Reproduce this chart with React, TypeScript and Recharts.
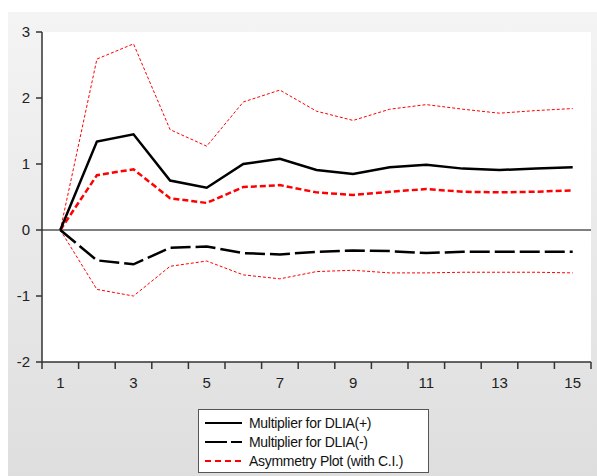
import React from "react";
import { LineChart, Line, XAxis, YAxis, CartesianGrid, ReferenceLine, Legend } from "recharts";

const periods = [1, 2, 3, 4, 5, 6, 7, 8, 9, 10, 11, 12, 13, 14, 15];
const multPos = [0, 1.34, 1.45, 0.75, 0.64, 1.0, 1.08, 0.91, 0.85, 0.95, 0.99, 0.93, 0.91, 0.93, 0.95];
const multNeg = [0, -0.46, -0.52, -0.27, -0.25, -0.35, -0.37, -0.33, -0.31, -0.32, -0.35, -0.33, -0.33, -0.33, -0.33];
const asym = [0, 0.83, 0.92, 0.48, 0.41, 0.65, 0.68, 0.57, 0.53, 0.58, 0.62, 0.58, 0.57, 0.58, 0.6];
const ciUpper = [0, 2.59, 2.82, 1.52, 1.27, 1.94, 2.12, 1.8, 1.66, 1.83, 1.9, 1.83, 1.77, 1.81, 1.84];
const ciLower = [0, -0.9, -1.0, -0.55, -0.47, -0.68, -0.74, -0.63, -0.61, -0.65, -0.65, -0.64, -0.64, -0.64, -0.65];

const xLabelTicks = [1, 3, 5, 7, 9, 11, 13, 15];
const xMarkTicks = [0.5, 1.5, 2.5, 3.5, 4.5, 5.5, 6.5, 7.5, 8.5, 9.5, 10.5, 11.5, 12.5, 13.5, 14.5, 15.5];
const yTicks = [-2, -1, 0, 1, 2, 3];

const legendItems = [
  { label: "Multiplier for DLIA(+)", color: "#000", dash: undefined, width: 2 },
  { label: "Multiplier for DLIA(-)", color: "#000", dash: "22 4", width: 2 },
  { label: "Asymmetry Plot (with C.I.)", color: "#ff0000", dash: "6 4", width: 2 },
];

const data = periods.map((p, i) => ({
  p,
  pos: multPos[i],
  neg: multNeg[i],
  asym: asym[i],
  up: ciUpper[i],
  lo: ciLower[i],
}));

const font = "'Liberation Sans', Arial, sans-serif";
const HALF_BAND = 549 / 15 / 2;

const XTick = (props: any) => {
  const { x, y, payload } = props;
  const center = payload.value + 0.5;
  if (!xLabelTicks.includes(center)) return <g />;
  return (
    <text x={x + HALF_BAND} y={y} dy="0.71em" textAnchor="middle" fill="#222" fontSize={15} fontFamily={font}>
      {center}
    </text>
  );
};

const LegendBox = () => (
  <div
    style={{
      width: 229,
      height: 59,
      background: "#fff",
      border: "1px solid #555",
      fontFamily: font,
      fontSize: 14,
      color: "#111",
      boxSizing: "content-box",
      paddingTop: 3,
    }}
  >
    {legendItems.map((it) => (
      <div key={it.label} style={{ display: "flex", alignItems: "center", height: 19 }}>
        <svg width={50} height={19} style={{ display: "block" }}>
          <line x1={6} x2={43} y1={10} y2={10} stroke={it.color} strokeWidth={it.width} strokeDasharray={it.dash} />
        </svg>
        <span style={{ letterSpacing: -0.3, whiteSpace: "nowrap" }}>{it.label}</span>
      </div>
    ))}
  </div>
);

export default function App() {
  return (
    <div
      style={{
        position: "absolute",
        top: 12,
        left: 8,
        width: 589,
        height: 464,
        background: "linear-gradient(#f4f4f4, #dedede)",
      }}
    >
      <LineChart width={589} height={464} data={data} margin={{ top: 20, right: 6, bottom: 84, left: 0 }}>
        <CartesianGrid horizontal={false} vertical={false} fill="#fff" />
        <XAxis
          dataKey="p"
          type="number"
          domain={[0.5, 15.5]}
          ticks={xMarkTicks}
          interval={0}
          height={30}
          tickSize={7}
          tickMargin={8}
          tick={<XTick />}
          axisLine={{ stroke: "#333", strokeWidth: 1.5 }}
          tickLine={{ stroke: "#333", strokeWidth: 1.5 }}
        />
        <YAxis
          domain={[-2, 3]}
          ticks={yTicks}
          width={34}
          tickSize={6}
          tickMargin={6}
          interval={0}
          axisLine={{ stroke: "#333", strokeWidth: 1.5 }}
          tickLine={{ stroke: "#333", strokeWidth: 1.5 }}
          tick={{ fill: "#222", fontSize: 15, fontFamily: font }}
        />
        <ReferenceLine y={0} stroke="#000" strokeWidth={1} />
        <Line dataKey="up" stroke="#ff0000" strokeWidth={1} strokeDasharray="3 2" dot={false} isAnimationActive={false} />
        <Line dataKey="lo" stroke="#ff0000" strokeWidth={1} strokeDasharray="3 2" dot={false} isAnimationActive={false} />
        <Line dataKey="asym" stroke="#ff0000" strokeWidth={2.5} strokeDasharray="6 3" dot={false} isAnimationActive={false} />
        <Line dataKey="neg" stroke="#000" strokeWidth={2.5} strokeDasharray="20 5" dot={false} isAnimationActive={false} />
        <Line dataKey="pos" stroke="#000" strokeWidth={2.5} dot={false} isAnimationActive={false} />
        <Legend
          layout="horizontal"
          align="center"
          verticalAlign="middle"
          content={() => <LegendBox />}
          wrapperStyle={{ left: 190, top: 397, width: 240, height: 66 }}
        />
      </LineChart>
    </div>
  );
}
